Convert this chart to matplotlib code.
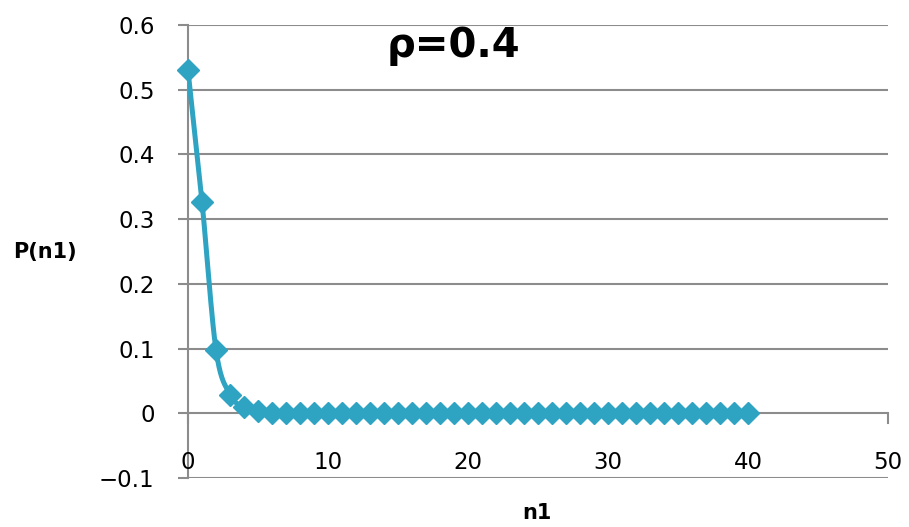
import numpy as np
import matplotlib
matplotlib.use("Agg")
import matplotlib.pyplot as plt

# data
n1 = list(range(41))
p_n1 = [0.53, 0.327, 0.098, 0.029, 0.009, 0.003, 0.001, 0.0003] + [0.0] * 33
x_ticks = [0, 10, 20, 30, 40, 50]
y_ticks = [-0.1, 0.0, 0.1, 0.2, 0.3, 0.4, 0.5, 0.6]
y_labels = ["\u22120.1", "0", "0.1", "0.2", "0.3", "0.4", "0.5", "0.6"]

line_col = "#2ea3c2"
grid_col = "#8c8c8c"


def smooth(x, y, steps=20):
    # catmull-rom through the points, like Excel's smoothed line
    x = np.asarray(x, float)
    y = np.asarray(y, float)
    px = np.concatenate([[x[0]], x, [x[-1]]])
    py = np.concatenate([[y[0]], y, [y[-1]]])
    xs, ys = [], []
    t = np.linspace(0, 1, steps)
    for i in range(1, len(px) - 2):
        for arr, out in ((px, xs), (py, ys)):
            p0, p1, p2, p3 = arr[i - 1], arr[i], arr[i + 1], arr[i + 2]
            m1 = (p2 - p0) / 6.0
            m2 = (p3 - p1) / 6.0
            b = ((1 - t) ** 3 * p1 + 3 * (1 - t) ** 2 * t * (p1 + m1)
                 + 3 * (1 - t) * t ** 2 * (p2 - m2) + t ** 3 * p2)
            out.extend(b)
    return xs, ys


fig = plt.figure(figsize=(9.09, 5.27), dpi=100)
ax = fig.add_axes([188 / 909, 1 - 478 / 527, 700 / 909, 453 / 527])

ax.set_xlim(0, 50)
ax.set_ylim(-0.1, 0.6)

for yv in y_ticks:
    ax.axhline(yv, color=grid_col, lw=1.5, zorder=1)

sx, sy = smooth(n1, p_n1)
ax.plot(sx, sy, color=line_col, lw=3.6, zorder=3, solid_capstyle="round")
ax.plot(n1, p_n1, linestyle="none", marker="D", ms=11.5, color=line_col,
        zorder=4, clip_on=False)

for s in ["top", "right", "bottom"]:
    ax.spines[s].set_visible(False)
ax.spines["left"].set_color(grid_col)
ax.spines["left"].set_linewidth(1.5)

ax.set_yticks(y_ticks)
ax.set_yticklabels(y_labels, fontsize=16.5)
ax.tick_params(axis="y", length=7, color=grid_col, width=1.5, pad=17)

# x labels sit just under the zero line
ax.set_xticks([])
for xv in x_ticks:
    ax.plot([xv, xv], [0, -0.015], color=grid_col, lw=1.5, zorder=1, clip_on=False)
    ax.text(xv, -0.0757, str(xv), ha="center", va="center", fontsize=16.5)

fig.text(453 / 909, 1 - 46 / 527, "\u03c1=0.4", ha="center", va="center",
         fontsize=29, fontweight="bold")
fig.text(45 / 909, 1 - 252 / 527, "P(n1)", ha="center", va="center",
         fontsize=15, fontweight="bold")
fig.text(537 / 909, 1 - 513 / 527, "n1", ha="center", va="center",
         fontsize=15, fontweight="bold")

fig.savefig("out.png", dpi=100)
